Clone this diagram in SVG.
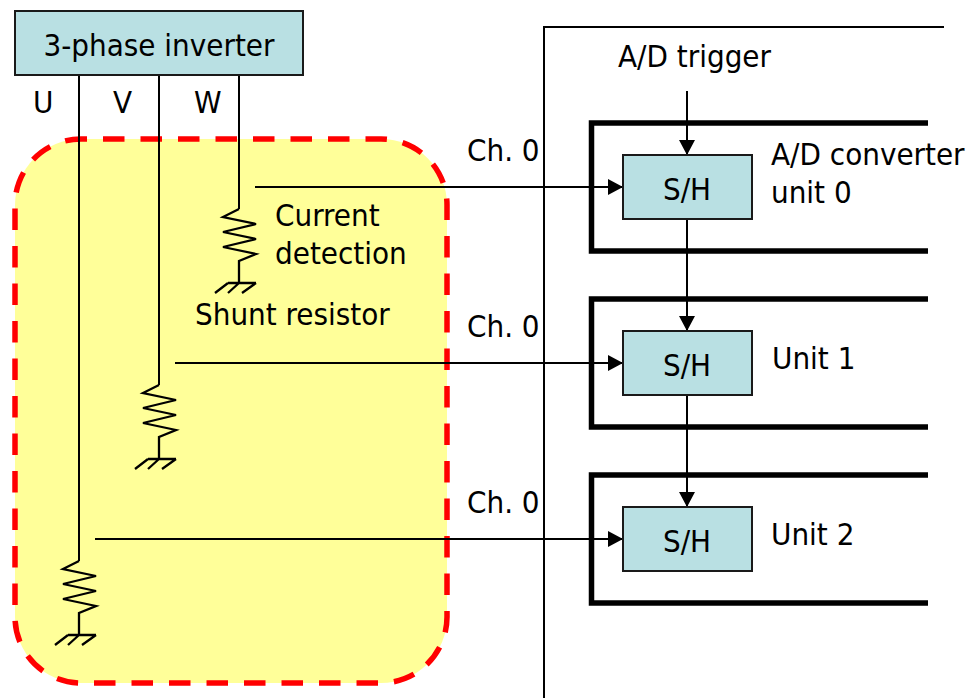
<svg xmlns="http://www.w3.org/2000/svg" width="971" height="698" viewBox="0 0 971 698">
<style>
text{font-family:"DejaVu Sans Condensed","DejaVu Sans",sans-serif;font-size:31px;fill:#000}
.m{text-anchor:middle}
.box{fill:#b9e0e3;stroke:#1a1a1a;stroke-width:2}
.l{fill:none;stroke:#000;stroke-width:2}
.r{fill:none;stroke:#000;stroke-width:2.3}
.b{fill:none;stroke:#000;stroke-width:5.500}
</style>
<defs>
<marker id="a" markerUnits="userSpaceOnUse" markerWidth="16" markerHeight="16" refX="15" refY="8" orient="auto"><path d="M0,0L15,8L0,16Z" fill="#000"/></marker>
<g id="res"><path class="r" d="M0,0L-16,8L17,15L-16,23L17,30L-16,38L17,45L0,52V74M-11,74H17M-11,74L-24,84M0,74L-11,84M17,74L3,84"/></g>
</defs>
<g id="region"><rect x="15" y="139" width="432" height="544" rx="66" fill="#ffff99" stroke="#f00" stroke-width="5.500" stroke-dasharray="21.500 16" stroke-dashoffset="15.500"/></g>
<g id="adc-frame"><path class="l" d="M944,27H544V698"/></g>
<g id="unit0"><path class="b" d="M928,123H591.500V251H928"/></g>
<g id="unit1"><path class="b" d="M928,299H591.500V427H928"/></g>
<g id="unit2"><path class="b" d="M928,475H591.500V603H928"/></g>
<g id="connectors">
<path class="l" d="M79,75V561M159,75V385M239,75V209"/>
<path class="l" d="M255,187H623" marker-end="url(#a)"/>
<path class="l" d="M175,363H623" marker-end="url(#a)"/>
<path class="l" d="M95,539H623" marker-end="url(#a)"/>
<path class="l" d="M687,91V155" marker-end="url(#a)"/>
<path class="l" d="M687,219V331" marker-end="url(#a)"/>
<path class="l" d="M687,395V507" marker-end="url(#a)"/>
</g>
<g id="shunt-w"><use href="#res" x="239" y="209"/></g>
<g id="shunt-v"><use href="#res" x="159" y="385"/></g>
<g id="shunt-u"><use href="#res" x="79" y="561"/></g>
<g id="inverter"><rect class="box" x="15" y="11" width="288" height="64"/><text class="m" x="159" y="55.500">3-phase inverter</text></g>
<g id="sh0"><rect class="box" x="623" y="155" width="129" height="64"/><text class="m" x="687" y="200">S/H</text></g>
<g id="sh1"><rect class="box" x="623" y="331" width="129" height="64"/><text class="m" x="687" y="376">S/H</text></g>
<g id="sh2"><rect class="box" x="623" y="507" width="129" height="64"/><text class="m" x="687" y="552">S/H</text></g>
<g id="labels">
<text x="33" y="113">U</text><text x="113" y="113">V</text><text x="194" y="113">W</text>
<text x="467" y="161">Ch. 0</text><text x="467" y="337">Ch. 0</text><text x="467" y="513">Ch. 0</text>
<text x="618" y="67">A/D trigger</text>
<text x="771" y="165">A/D converter</text><text x="771" y="203">unit 0</text>
<text x="772" y="369">Unit 1</text><text x="771" y="545">Unit 2</text>
<text x="275" y="226">Current</text><text x="275" y="264">detection</text>
<text x="195" y="325">Shunt resistor</text>
</g>
</svg>
